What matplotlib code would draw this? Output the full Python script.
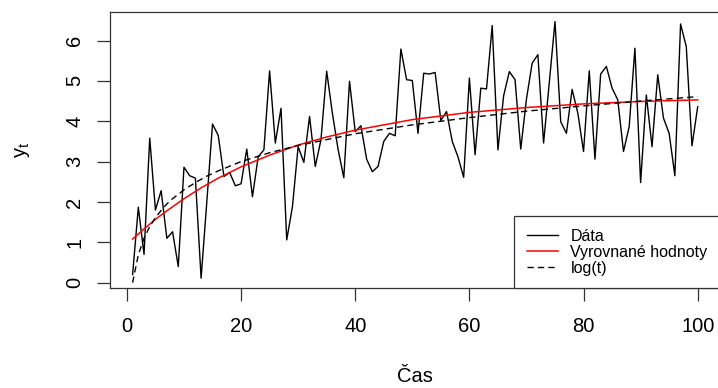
from __future__ import annotations

import matplotlib

matplotlib.use("Agg")
import matplotlib.pyplot as plt
import numpy as np

# time index and observed series
TIME = list(range(1, 101))
DATA_VALUES = [
    0.20, 1.87, 0.70, 3.58, 1.80, 2.28, 1.10, 1.26, 0.40, 2.86,
    2.65, 2.59, 0.11, 2.00, 3.93, 3.65, 2.63, 2.73, 2.40, 2.45,
    3.31, 2.13, 3.12, 3.29, 5.25, 3.46, 4.32, 1.06, 1.88, 3.37,
    2.98, 4.12, 2.88, 3.54, 5.24, 4.20, 3.30, 2.60, 4.99, 3.74,
    3.89, 3.06, 2.75, 2.88, 3.50, 3.70, 3.64, 5.79, 5.03, 5.01,
    3.70, 5.19, 5.17, 5.21, 4.02, 4.24, 3.50, 3.12, 2.61, 5.07,
    3.17, 4.82, 4.80, 6.37, 3.29, 4.63, 5.23, 5.03, 3.31, 4.55,
    5.44, 5.65, 3.46, 4.96, 6.47, 3.99, 3.70, 4.79, 4.20, 3.25,
    5.25, 3.06, 5.17, 5.36, 4.82, 4.53, 3.25, 3.87, 5.81, 2.48,
    4.65, 3.37, 5.15, 4.08, 3.70, 2.65, 6.41, 5.85, 3.39, 4.36,
]

# fitted curve, read at selected time points
FIT_TIME = [1, 3, 5, 7, 10, 13, 16, 20, 25, 30, 35, 40, 50, 60, 70, 80, 90, 100]
FIT_VALUES = [1.08, 1.33, 1.57, 1.78, 2.08, 2.35, 2.59, 2.87, 3.16, 3.41,
              3.61, 3.78, 4.04, 4.22, 4.34, 4.43, 4.49, 4.53]

# log(t) reference curve, read at selected time points
LOG_TIME = [1, 2, 3, 4, 5, 6, 7, 8, 10, 12, 14, 16, 20, 25, 30, 40, 50, 60, 70, 80, 90, 100]
LOG_VALUES = [0.00, 0.69, 1.10, 1.39, 1.61, 1.79, 1.95, 2.08, 2.30, 2.48, 2.64,
              2.77, 3.00, 3.22, 3.40, 3.69, 3.91, 4.09, 4.25, 4.38, 4.50, 4.61]

X_TICKS = [0, 20, 40, 60, 80, 100]
Y_TICKS = [0, 1, 2, 3, 4, 5, 6]
LABELS = ["Dáta", "Vyrovnané hodnoty", "log(t)"]

plt.rcParams["font.family"] = ["Liberation Sans", "DejaVu Sans"]
plt.rcParams["mathtext.fontset"] = "custom"
plt.rcParams["mathtext.rm"] = "Liberation Sans"

fig = plt.figure(figsize=(7.18, 3.88), dpi=100)
ax = fig.add_axes([110 / 718, 99.7 / 388, 610.3 / 718, 276 / 388])

ax.plot(TIME, DATA_VALUES, color="black", linewidth=1.0, label=LABELS[0])
ax.plot(FIT_TIME, FIT_VALUES, color="#FF0000", linewidth=1.1, label=LABELS[1])
ax.plot(LOG_TIME, LOG_VALUES, color="black", linewidth=1.0,
        linestyle=(0, (4.5, 3.0)), label=LABELS[2])

ax.set_xlim(-2.96, 103.96)
ax.set_ylim(-0.14, 6.70)
ax.set_xticks(X_TICKS)
ax.set_yticks(Y_TICKS)
ax.tick_params(axis="both", labelsize=14.5, length=9.4, width=0.9, color="#333333")
ax.tick_params(axis="x", pad=11)
ax.tick_params(axis="y", pad=9)
for label in ax.get_yticklabels():
    label.set_rotation(90)
    label.set_va("center")

for spine in ax.spines.values():
    spine.set_linewidth(0.9)
    spine.set_color("#333333")

ax.set_xlabel("Čas", fontsize=14.5)
ax.set_ylabel(r"$\mathrm{y}_\mathrm{t}$", fontsize=14.5)
ax.xaxis.set_label_coords(0.5, (288.3 - 376) / 276)
ax.xaxis.label.set_va("center")
ax.yaxis.set_label_coords((23 - 110) / 610.3, 0.5)
ax.yaxis.label.set_va("center")

leg = ax.legend(
    loc="lower right",
    bbox_to_anchor=(1.0, 0.0),
    borderaxespad=0,
    fontsize=11.5,
    fancybox=False,
    framealpha=1,
    edgecolor="#333333",
    handlelength=1.9,
    handletextpad=0.8,
    borderpad=0.8,
    labelspacing=0.05,
)
leg.get_frame().set_linewidth(0.9)

fig.savefig("out.png", dpi=100)
